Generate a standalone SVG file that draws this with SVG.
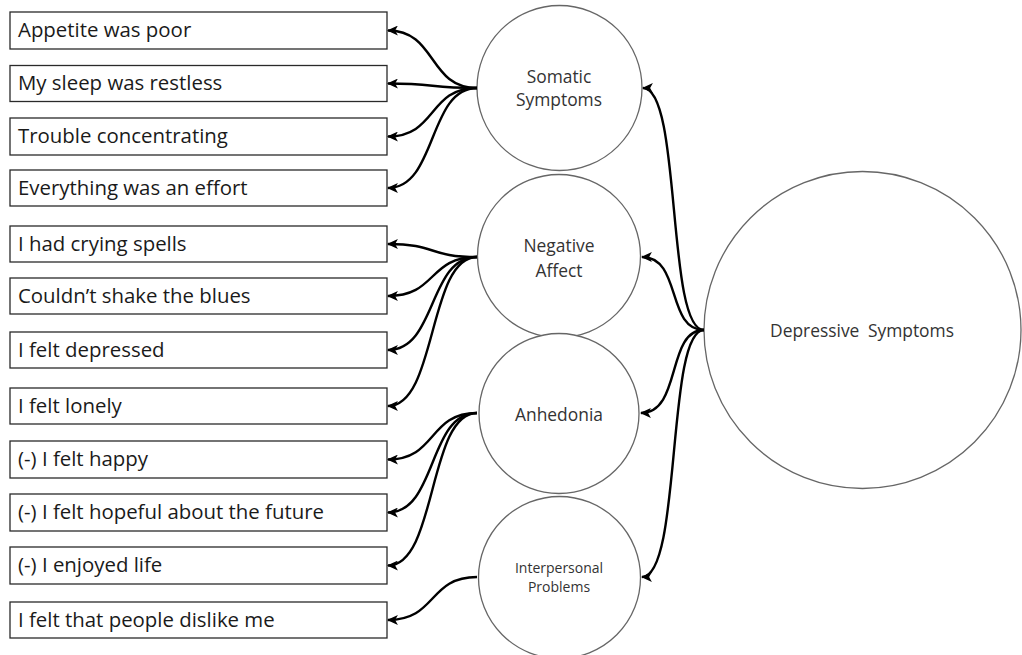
<svg xmlns="http://www.w3.org/2000/svg" width="1022" height="655" viewBox="0 0 1022 655">
<style>
.box{fill:#fff;stroke:#2a2a2a;stroke-width:1.3}
.circ{fill:#fff;stroke:#666;stroke-width:1.3}
.item{font-family:"Open Sans","Liberation Sans",sans-serif;font-size:20.4px;fill:#1a1a1a}
.lab{font-family:"Open Sans","Liberation Sans",sans-serif;font-size:17.4px;fill:#333;text-anchor:middle}
.labs{font-family:"Open Sans","Liberation Sans",sans-serif;font-size:14px;fill:#333;text-anchor:middle}
.con{fill:none;stroke:#000;stroke-width:2.4;marker-end:url(#arr)}
</style>
<defs>
<marker id="arr" markerUnits="userSpaceOnUse" viewBox="0 0 10 9" refX="9" refY="4.5" markerWidth="11" markerHeight="10" orient="auto">
<path d="M0,0 L10,4.5 L0,9 L2.5,4.5 z" fill="#000"/>
</marker>
</defs>
<rect width="1022" height="655" fill="#fff"/>
<g id="items">
<g id="item1"><rect class="box" x="10" y="12" width="377" height="37"/><text class="item" x="18" y="37">Appetite was poor</text></g>
<g id="item2"><rect class="box" x="10" y="65.5" width="377" height="36"/><text class="item" x="18" y="90">My sleep was restless</text></g>
<g id="item3"><rect class="box" x="10" y="118" width="377" height="37"/><text class="item" x="18" y="143">Trouble concentrating</text></g>
<g id="item4"><rect class="box" x="10" y="170" width="377" height="36"/><text class="item" x="18" y="195">Everything was an effort</text></g>
<g id="item5"><rect class="box" x="10" y="226" width="377" height="36"/><text class="item" x="18" y="251">I had crying spells</text></g>
<g id="item6"><rect class="box" x="10" y="278" width="377" height="36"/><text class="item" x="18" y="303">Couldn’t shake the blues</text></g>
<g id="item7"><rect class="box" x="10" y="332" width="377" height="36"/><text class="item" x="18" y="357">I felt depressed</text></g>
<g id="item8"><rect class="box" x="10" y="388" width="377" height="36"/><text class="item" x="18" y="413">I felt lonely</text></g>
<g id="item9"><rect class="box" x="10" y="441" width="377" height="37"/><text class="item" x="18" y="466">(-) I felt happy</text></g>
<g id="item10"><rect class="box" x="10" y="494" width="377" height="37"/><text class="item" x="18" y="519">(-) I felt hopeful about the future</text></g>
<g id="item11"><rect class="box" x="10" y="547" width="377" height="37"/><text class="item" x="18" y="572">(-) I enjoyed life</text></g>
<g id="item12"><rect class="box" x="10" y="602" width="377" height="36"/><text class="item" x="18" y="627">I felt that people dislike me</text></g>
</g>
<g id="somatic"><circle class="circ" cx="559.5" cy="88" r="82.5"/><text class="lab" x="559" y="83">Somatic</text><text class="lab" x="559" y="106">Symptoms</text></g>
<g id="negative"><circle class="circ" cx="559" cy="256" r="81.5"/><text class="lab" x="559" y="252">Negative</text><text class="lab" x="559" y="277">Affect</text></g>
<g id="anhedonia"><circle class="circ" cx="559" cy="413.5" r="80"/><text class="lab" x="559" y="421">Anhedonia</text></g>
<g id="interpersonal"><circle class="circ" cx="559.5" cy="577.5" r="81"/><text class="labs" x="559" y="573">Interpersonal</text><text class="labs" x="559" y="592">Problems</text></g>
<g id="depressive"><circle class="circ" cx="862.5" cy="330" r="158.5"/><text class="lab" x="862" y="337" word-spacing="4">Depressive Symptoms</text></g>
<g id="connectors">
<path class="con" d="M477,88 C428,88 437,30.5 388,30.5"/>
<path class="con" d="M477,88 C428,88 437,83.5 388,83.5"/>
<path class="con" d="M477,88 C428,88 437,136.5 388,136.5"/>
<path class="con" d="M477,88 C428,88 437,188 388,188"/>
<path class="con" d="M477,257 C428,257 437,244 388,244"/>
<path class="con" d="M477,257 C428,257 437,296 388,296"/>
<path class="con" d="M477,257 C428,257 437,350 388,350"/>
<path class="con" d="M477,257 C428,257 437,406 388,406"/>
<path class="con" d="M477,413 C428,413 437,459.5 388,459.5"/>
<path class="con" d="M477,413 C428,413 437,512.5 388,512.5"/>
<path class="con" d="M477,413 C428,413 437,565.5 388,565.5"/>
<path class="con" d="M477,577 C428,577 437,620 388,620"/>
<path class="con" d="M704,330 C666,330 682,88 643,88"/>
<path class="con" d="M704,330 C666,330 682,257 642,257"/>
<path class="con" d="M704,330 C666,330 682,413 641,413"/>
<path class="con" d="M704,330 C666,330 682,577 642,577"/>
</g>
</svg>
